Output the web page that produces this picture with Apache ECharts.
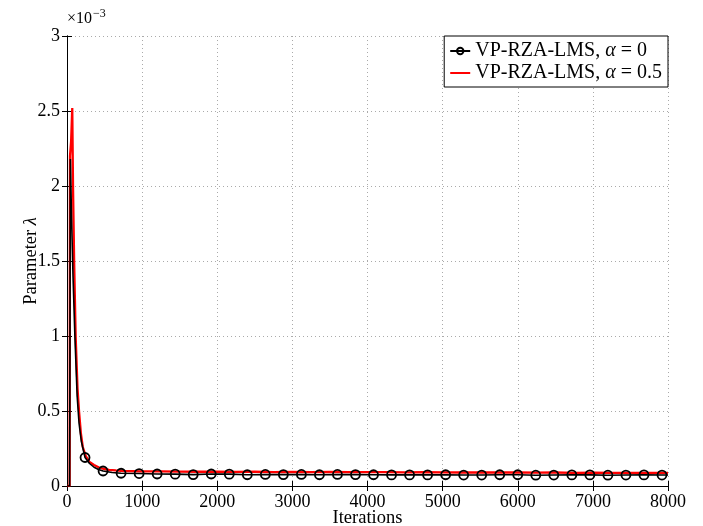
<!DOCTYPE html>
<html>
<head>
<meta charset="utf-8">
<script src="https://cdn.jsdelivr.net/npm/echarts@6/dist/echarts.min.js"></script>
<style>html,body{margin:0;padding:0;background:#fff;overflow:hidden}#c{width:703px;height:526px}</style>
</head>
<body>
<div id="c"></div>
<script>
// Values in units of 1e-3
var xTicks = [0, 1000, 2000, 3000, 4000, 5000, 6000, 7000, 8000];
var yTicks = [0, 0.5, 1, 1.5, 2, 2.5, 3];

var blackIter = [0, 35, 45, 60, 80, 105, 135, 160, 190, 240, 300, 360, 420, 480, 600, 720,
  960, 1200, 1440, 1680, 1920, 2160, 2400, 2640, 2880, 3120, 3360, 3600, 3840, 4080, 4320,
  4560, 4800, 5040, 5280, 5520, 5760, 6000, 6240, 6480, 6720, 6960, 7200, 7440, 7680, 7920, 8000];
var blackVal = [0, 0, 2.18, 1.8, 1.4, 1.0, 0.6, 0.42, 0.3, 0.19, 0.15, 0.125, 0.11, 0.10, 0.09, 0.085,
  0.083, 0.080, 0.079, 0.076, 0.080, 0.079, 0.075, 0.077, 0.076, 0.077, 0.075, 0.077, 0.076, 0.075, 0.074,
  0.074, 0.074, 0.075, 0.073, 0.073, 0.075, 0.075, 0.072, 0.073, 0.074, 0.074, 0.072, 0.073, 0.074, 0.073, 0.073];

var redIter = [0, 35, 40, 55, 70, 80, 95, 115, 140, 160, 185, 210, 250, 300, 360, 420, 480, 560, 650, 750,
  1000, 1250, 1500, 1750, 2000, 2250, 2500, 2750, 3000, 3250, 3500, 3750, 4000, 4250, 4500, 4750,
  5000, 5250, 5500, 5750, 6000, 6250, 6500, 6750, 7000, 7250, 7500, 7750, 8000];
var redVal = [0, 0, 2.2, 2.3, 2.52, 2.0, 1.5, 1.0, 0.65, 0.5, 0.35, 0.26, 0.2, 0.16, 0.14, 0.125, 0.115, 0.108, 0.104, 0.1,
  0.098, 0.097, 0.096, 0.095, 0.096, 0.094, 0.095, 0.093, 0.094, 0.093, 0.094, 0.092, 0.093, 0.092, 0.091, 0.092,
  0.091, 0.090, 0.091, 0.090, 0.090, 0.089, 0.090, 0.088, 0.089, 0.088, 0.088, 0.087, 0.087];

var seriesNames = ['VP-RZA-LMS, α = 0', 'VP-RZA-LMS, α = 0.5'];

var FONT = '"Liberation Serif", "DejaVu Serif", serif';

var blackData = blackIter.map(function (x, i) {
  var d = { value: [x, blackVal[i]] };
  if (!(x > 0 && x % 240 === 0)) d.symbol = 'none';
  return d;
});
var redData = redIter.map(function (x, i) { return [x, redVal[i]]; });

var chart = echarts.init(document.getElementById('c'), null, { renderer: 'canvas', width: 703, height: 526 });
var axisLineStyle = { show: true, lineStyle: { color: '#000', width: 1 } };
var tick = { show: true, inside: true, length: 5, lineStyle: { color: '#000' } };
var grid = { show: true, lineStyle: { color: '#aaa', type: [1, 3], width: 1 } };

chart.setOption({
  animation: false,
  backgroundColor: '#fff',
  grid: { left: 67, right: 35, top: 36, bottom: 40, containLabel: false, outerBoundsMode: 'none' },
  graphic: [{
    type: 'text', left: 67, top: 8,
    style: {
      text: '{a|×10}{b|−3}',
      rich: {
        a: { fontFamily: FONT, fontSize: 16, fill: '#000' },
        b: { fontFamily: FONT, fontSize: 12, fill: '#000', padding: [0, 0, 10, 1] }
      }
    }
  }],
  legend: {
    data: [{ name: seriesNames[0] }, { name: seriesNames[1], itemStyle: { opacity: 0 } }],
    orient: 'vertical',
    right: 35, top: 36,
    backgroundColor: '#fff',
    borderColor: '#000', borderWidth: 1, borderRadius: 0,
    padding: [4, 6, 3, 5],
    itemGap: 0,
    itemWidth: 20, itemHeight: 8,
    formatter: function (n) {
      return '{t|' + n.replace('α', '}{i|α}{t|') + '}';
    },
    textStyle: {
      fontFamily: FONT, fontSize: 20, color: '#000', lineHeight: 22,
      rich: {
        t: { fontFamily: FONT, fontSize: 20, color: '#000', lineHeight: 22 },
        i: { fontFamily: FONT, fontSize: 20, fontStyle: 'italic', color: '#000', lineHeight: 22 }
      }
    }
  },
  xAxis: [{
    type: 'value', min: 0, max: 8000, interval: 1000,
    name: 'Iterations', nameLocation: 'middle', nameGap: 23, nameMoveOverlap: false,
    nameTextStyle: { fontFamily: FONT, fontSize: 18.5, color: '#000' },
    axisLine: axisLineStyle, axisTick: tick,
    axisLabel: { fontFamily: FONT, fontSize: 18, color: '#000', margin: 7,
      formatter: function (v) { return String(v); } },
    splitLine: grid
  }, {
    type: 'value', position: 'top', min: 0, max: 8000, interval: 1000,
    axisLine: axisLineStyle, axisTick: tick, axisLabel: { show: false }, splitLine: { show: false }
  }],
  yAxis: [{
    type: 'value', min: 0, max: 3, interval: 0.5,
    name: 'Parameter {i|λ}', nameLocation: 'middle', nameGap: 26, nameMoveOverlap: false,
    nameTextStyle: { fontFamily: FONT, fontSize: 18.5, color: '#000',
      rich: { i: { fontFamily: FONT, fontSize: 18.5, fontStyle: 'italic', color: '#000' } } },
    axisLine: axisLineStyle, axisTick: tick,
    axisLabel: { fontFamily: FONT, fontSize: 18, color: '#000', margin: 7,
      formatter: function (v) { return String(v); } },
    splitLine: grid
  }, {
    type: 'value', position: 'right', min: 0, max: 3, interval: 0.5,
    axisLine: axisLineStyle, axisTick: tick, axisLabel: { show: false }, splitLine: { show: false }
  }],
  series: [{
    name: seriesNames[0], type: 'line', xAxisIndex: 0, yAxisIndex: 0,
    data: blackData,
    symbol: 'circle', symbolSize: 9, showAllSymbol: true,
    lineStyle: { color: '#000', width: 1.6 },
    itemStyle: { color: 'rgba(255,255,255,0)', borderColor: '#000', borderWidth: 1.8 },
    z: 3
  }, {
    name: seriesNames[1], type: 'line', xAxisIndex: 0, yAxisIndex: 0,
    data: redData, symbol: 'none',
    lineStyle: { color: '#ff0000', width: 2.3 },
    itemStyle: { color: '#ff0000' },
    z: 2
  }]
});
</script>
</body>
</html>
